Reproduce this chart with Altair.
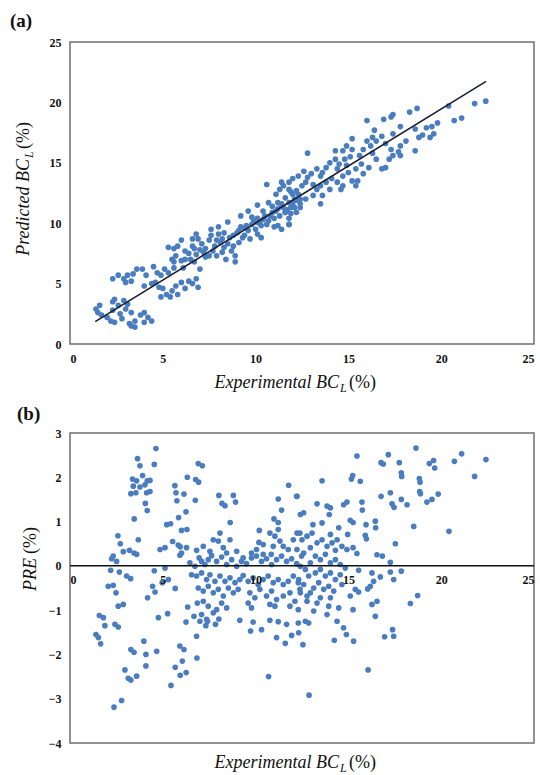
import altair as alt
import pandas as pd

# ---------------- data ----------------
x_ticks = [0, 5, 10, 15, 20, 25]
a_y_ticks = [0, 5, 10, 15, 20, 25]
b_y_ticks = [-4, -3, -2, -1, 0, 1, 2, 3]

# panel (a): (Experimental BC_L, Predicted BC_L)
a_low_pts = [
    (1.4, 2.9), (1.6, 3.2), (1.5, 2.6), (1.7, 2.4), (2.0, 2.2), (2.3, 3.5), (2.4, 3.7), (2.6, 3.2),
    (2.3, 2.8), (2.7, 2.5), (2.2, 1.9), (2.4, 1.8), (2.8, 2.1), (3.2, 1.7), (3.3, 1.5), (3.5, 1.9),
    (3.8, 2.4), (4.0, 2.6), (4.2, 2.2), (4.4, 1.9), (4.0, 1.8), (3.5, 1.4), (3.3, 2.6), (3.0, 2.9),
    (3.1, 3.3), (2.9, 3.6),
    (2.3, 5.4), (2.6, 5.7), (2.9, 5.4), (3.1, 5.7), (3.4, 5.8), (3.6, 6.2), (3.9, 6.2), (3.3, 5.2),
    (3.0, 5.1), (4.1, 5.7), (4.5, 6.4), (4.7, 5.9), (4.9, 5.7), (5.1, 6.2), (5.3, 5.9), (5.6, 6.3),
    (4.0, 4.8), (4.4, 5.0), (4.8, 4.7), (5.0, 4.6), (5.2, 4.1), (5.5, 4.4), (5.7, 4.8), (6.0, 5.1),
    (6.2, 4.6), (6.4, 5.2), (6.6, 5.0), (6.9, 4.7), (6.8, 5.4), (5.8, 4.1), (4.9, 3.9), (5.4, 3.9),
    (4.6, 5.1),
]
a_mid_pts = [
    (5.3, 8.0), (5.6, 7.9), (5.8, 8.1), (6.0, 8.6), (6.2, 7.7), (6.4, 7.5), (6.6, 8.1), (6.7, 7.9),
    (6.9, 8.7), (7.1, 8.3), (7.3, 7.9), (7.5, 8.6), (7.6, 9.0), (7.8, 8.1), (8.0, 9.1), (8.2, 8.7),
    (8.3, 9.2), (8.5, 8.3), (8.7, 7.7), (8.9, 7.3), (8.8, 9.0), (9.1, 9.4), (9.2, 9.7), (9.4, 9.0),
    (9.6, 9.4), (9.8, 9.9), (10.0, 9.5), (10.1, 10.4), (10.3, 9.8), (10.5, 10.6), (10.7, 10.2),
    (10.9, 10.9), (11.0, 10.4), (11.2, 11.2), (11.4, 11.6), (11.6, 10.9), (11.8, 11.7), (11.9, 11.3),
    (12.1, 12.0), (12.3, 12.4), (10.6, 13.2), (11.4, 13.4), (11.8, 12.8), (12.2, 10.9), (11.8, 10.4),
    (11.2, 9.8), (10.7, 11.7), (10.1, 11.5), (9.6, 11.0), (9.2, 10.6), (8.5, 10.1), (8.0, 9.7),
    (7.6, 9.5), (7.3, 7.2), (6.7, 6.8), (6.5, 7.0), (6.0, 6.9), (5.7, 7.3), (7.0, 6.2), (7.9, 7.3),
    (8.2, 7.6), (8.4, 7.0), (8.9, 6.8), (6.8, 9.1), (6.6, 8.7), (6.2, 7.0), (5.6, 6.8), (6.1, 6.3),
    (7.5, 7.3), (7.7, 7.7), (8.3, 8.0), (8.8, 8.1), (9.1, 8.4), (9.7, 8.7), (10.1, 9.1), (10.3, 8.8),
    (11.0, 9.7), (11.4, 9.5), (11.8, 9.9), (5.5, 7.0),
    (9.0, 9.2), (9.3, 8.8), (9.5, 9.8), (9.9, 10.2), (10.2, 10.0), (10.4, 10.3), (10.6, 9.9),
    (10.8, 10.6), (11.1, 11.0), (11.3, 10.6), (11.5, 11.3), (11.7, 11.1), (12.0, 11.6), (12.2, 11.9),
    (12.4, 12.0), (9.8, 10.5), (10.4, 11.0), (10.9, 11.4), (12.0, 12.4), (12.4, 11.3), (8.6, 8.8),
    (8.1, 8.4), (7.9, 8.6), (7.2, 7.6), (7.0, 7.8), (6.8, 7.4), (10.0, 10.1), (9.4, 9.6),
]
a_high_pts = [
    (21.8, 19.9), (22.4, 20.1), (20.7, 18.5), (21.1, 18.7), (20.4, 19.7), (18.3, 19.2), (18.7, 19.5),
    (17.4, 19.0), (17.3, 18.8), (16.9, 18.6), (16.0, 18.5), (15.2, 17.0), (12.8, 15.8), (17.8, 18.0),
    (18.6, 17.8), (19.2, 17.9), (19.5, 18.0), (19.8, 18.3), (19.6, 17.4), (19.4, 17.1), (18.8, 17.1),
    (19.0, 17.3), (18.1, 16.8), (17.8, 16.4), (17.7, 15.9), (17.3, 16.1), (17.4, 15.6), (17.2, 15.3),
    (17.8, 15.6), (18.6, 16.0), (17.0, 14.6), (16.8, 14.5), (16.5, 15.3), (16.3, 15.8), (16.2, 16.4),
    (16.5, 16.8), (16.4, 17.7), (16.8, 17.2), (17.0, 16.6), (17.4, 17.4), (16.3, 17.1), (16.0, 16.8),
    (15.8, 16.1), (15.6, 15.6), (15.7, 14.9), (15.4, 14.5), (15.1, 15.5), (15.2, 16.1), (14.9, 16.4),
    (14.7, 16.0), (14.8, 15.3), (15.0, 14.2), (15.4, 13.1), (15.2, 13.5), (14.7, 13.9), (14.4, 14.5),
    (14.3, 16.0), (14.0, 15.0), (13.8, 14.6), (13.6, 14.2), (13.5, 13.9), (13.3, 14.5), (13.0, 14.1),
    (12.8, 13.8), (12.6, 14.3), (12.3, 13.9), (12.0, 13.7), (11.8, 13.4), (11.5, 13.1), (11.3, 12.8),
    (11.1, 12.4), (11.2, 11.7), (11.6, 12.1), (11.9, 12.6), (12.2, 12.7), (12.5, 13.1), (12.7, 13.4),
    (13.1, 13.2), (13.5, 13.1), (13.8, 13.4), (14.1, 13.7), (14.4, 13.4), (14.6, 12.8), (13.6, 12.3),
    (13.5, 11.6), (13.1, 12.3), (12.7, 12.0), (12.4, 11.6), (12.1, 11.3), (11.9, 10.8), (11.6, 10.9),
    (11.8, 9.9), (11.4, 11.5), (14.3, 15.3), (14.5, 14.9), (14.9, 14.8), (15.5, 13.5), (15.8, 14.1),
    (16.1, 14.6), (14.7, 13.1), (14.0, 12.8), (13.3, 12.8),
]
fit_exp = [1.36, 22.42]
fit_pred = [1.85, 21.74]

# panel (b): (Experimental BC_L, PRE)
b_left_pts = [
    (4.63, 2.65), (3.64, 2.42), (3.77, 2.26), (4.54, 2.29), (3.37, 1.96), (3.59, 1.92), (3.91, 2.04),
    (4.16, 1.92), (4.31, 1.93), (3.41, 1.80), (3.77, 1.78), (4.04, 1.83), (3.28, 1.63), (3.55, 1.65),
    (4.13, 1.65), (4.31, 1.68), (4.06, 1.41), (4.16, 1.25), (3.46, 1.06), (6.91, 2.31), (7.13, 2.26),
    (6.32, 2.00), (6.77, 1.95), (6.93, 1.89), (5.65, 1.81), (5.71, 1.65), (6.14, 1.62), (5.76, 1.47),
    (6.75, 1.48), (8.02, 1.59), (8.80, 1.59), (8.19, 1.41), (8.35, 1.36), (8.92, 1.44), (8.63, 0.98),
    (6.25, 1.22), (5.85, 1.09), (5.21, 0.93), (5.42, 0.95), (6.01, 0.80), (6.30, 0.82), (5.53, 0.55),
    (5.94, 0.43), (3.68, 0.59), (2.58, 0.68), (2.71, 0.50), (2.87, 0.32), (3.20, 0.35), (3.45, 0.29),
    (3.59, 0.26), (2.33, 0.22), (2.24, 0.16), (2.51, 0.10), (4.85, 0.37), (5.12, 0.41), (5.92, 0.24),
    (2.19, -0.10), (2.66, -0.14), (3.05, -0.23), (3.27, -0.29), (4.54, -0.11), (5.12, -0.05),
    (5.30, -0.31), (4.97, -0.38), (5.67, -0.51), (4.45, -0.46), (4.58, -0.59), (4.18, -0.72),
    (2.06, -0.46), (2.33, -0.44), (2.48, -0.61), (2.60, -0.91), (2.87, -0.87), (1.58, -1.12),
    (1.80, -1.17), (1.88, -1.35), (2.42, -1.32), (2.60, -1.38), (1.40, -1.55), (1.65, -1.76),
    (1.53, -1.62), (4.76, -1.17), (5.26, -1.08), (6.25, -1.27), (6.68, -1.14), (6.82, -1.59),
    (7.00, -1.25), (7.32, -1.35), (7.41, -1.25), (7.84, -1.32), (8.02, -1.20), (6.34, -0.93),
    (6.86, -0.84), (3.28, -1.89), (3.45, -1.95), (3.98, -1.70), (4.09, -2.00), (4.09, -2.26),
    (4.67, -1.93), (5.92, -1.81), (6.14, -1.89), (6.05, -2.15), (6.84, -2.08), (5.67, -2.29),
    (5.94, -2.47), (6.26, -2.41), (2.96, -2.35), (3.14, -2.54), (3.28, -2.58), (3.59, -2.49),
    (5.44, -2.70), (2.78, -3.04), (2.37, -3.19),
]
b_mid_pts = [
    (10.70, -2.50), (11.60, -1.75), (11.13, -1.62), (11.94, -1.57), (9.73, -1.47), (10.32, -1.44),
    (9.87, -1.27), (9.15, -1.23), (10.77, -1.23), (11.22, -1.26), (11.67, -1.32), (12.30, -1.29),
    (11.78, 1.82), (11.22, 1.51), (12.21, 1.57), (11.40, 1.26), (10.99, 1.06), (11.22, 0.98),
    (10.20, 0.80), (10.18, 0.53), (10.41, 0.48), (10.84, 0.26), (8.62, 0.59), (7.72, 0.59),
    (7.99, 0.56), (8.26, 0.41), (8.08, 0.74), (7.54, 0.33), (7.18, 0.44), (6.82, 0.35), (6.28, 0.41),
    (6.01, 0.29), (5.83, 0.47),
    (6.46, 0.07), (6.73, -0.01), (6.96, 0.18), (7.09, 0.10), (7.27, 0.03), (7.45, 0.14), (7.63, 0.23),
    (7.90, 0.10), (8.17, 0.20), (8.44, 0.03), (8.71, 0.14), (8.98, -0.01), (9.24, 0.10), (9.51, 0.05),
    (9.78, 0.18), (10.05, 0.22), (10.32, 0.10), (10.59, 0.16), (10.86, 0.03), (11.13, 0.14),
    (11.40, 0.22), (11.67, 0.10), (11.94, 0.16), (12.21, 0.05), (12.48, 0.22), (6.55, -0.20),
    (6.82, -0.23), (7.09, -0.16), (7.36, -0.31), (7.54, -0.20), (7.81, -0.35), (8.08, -0.23),
    (8.35, -0.35), (8.62, -0.27), (8.89, -0.38), (9.15, -0.31), (9.33, -0.22), (9.60, -0.35),
    (9.87, -0.27), (10.14, -0.42), (10.41, -0.31), (10.68, -0.23), (10.95, -0.38), (11.22, -0.31),
    (11.49, -0.42), (11.76, -0.35), (12.03, -0.23), (12.30, -0.38), (6.91, -0.50), (7.18, -0.57),
    (7.45, -0.46), (7.72, -0.61), (7.99, -0.53), (8.26, -0.68), (8.53, -0.50), (8.80, -0.61),
    (9.06, -0.53), (9.69, -0.61), (9.96, -0.72), (10.23, -0.53), (10.59, -0.68), (10.86, -0.57),
    (11.13, -0.76), (11.49, -0.68), (11.85, -0.61), (12.12, -0.80), (12.39, -0.53), (7.18, -0.80),
    (7.45, -0.91), (7.90, -0.99), (8.17, -0.84), (8.44, -0.95), (9.60, -0.84), (9.78, -0.95),
    (10.77, -0.87), (11.04, -0.91), (11.85, -0.91), (12.30, -0.99), (7.09, -1.10), (7.72, -1.06),
    (7.36, -1.21), (10.77, 0.74), (11.04, 0.67), (11.22, 0.82), (11.31, 0.56), (11.49, 0.44),
    (11.76, 0.37), (12.03, 0.59), (12.39, 0.74), (10.95, 0.44), (10.41, 0.26), (10.05, 0.37),
    (9.78, 0.29), (9.33, 0.18), (8.98, 0.33), (8.44, 0.29),
]
b_right_pts = [
    (18.64, 2.66), (15.46, 2.48), (17.15, 2.51), (17.74, 2.33), (16.76, 2.33), (16.88, 2.30),
    (19.36, 2.31), (19.59, 2.38), (19.65, 2.21), (20.71, 2.36), (21.10, 2.53), (22.41, 2.40),
    (21.80, 2.02), (15.16, 1.96), (15.23, 2.04), (15.64, 1.91), (13.58, 1.92), (17.85, 2.10),
    (17.87, 2.02), (18.82, 1.97), (18.86, 1.89), (18.84, 1.68), (18.88, 1.63), (16.76, 1.57),
    (17.26, 1.65), (17.85, 1.50), (18.16, 1.38), (17.35, 1.40), (17.46, 1.32), (19.23, 1.44),
    (19.50, 1.50), (19.84, 1.62), (18.52, 0.89), (20.42, 0.78), (17.53, 0.50), (14.74, 1.38),
    (14.92, 1.44), (15.73, 1.44), (15.75, 1.26), (15.95, 0.93), (16.45, 1.01), (16.47, 0.86),
    (15.91, 0.69), (15.97, 0.61), (15.10, 1.03), (15.25, 0.98), (14.96, 0.71), (16.54, 0.25),
    (16.83, 0.22), (17.26, 0.08), (15.46, 0.28), (15.25, 0.41), (14.92, 0.37), (14.30, 0.35),
    (14.03, 0.71), (14.48, 0.86), (13.85, 1.35), (14.03, 1.31), (13.97, 1.16), (13.31, 1.40),
    (13.09, 0.93), (13.58, 0.97), (12.41, 1.16), (12.59, 1.20), (12.23, 1.57),
    (15.55, -0.10), (16.27, -0.16), (16.72, -0.25), (17.26, -0.14), (17.44, -0.31), (17.85, -0.12),
    (16.18, -0.46), (16.04, -0.52), (16.36, -0.35), (16.54, -0.80), (16.27, -0.87), (16.45, -1.14),
    (15.37, -0.53), (15.55, -0.59), (15.10, -0.68), (15.25, -0.99), (14.65, -0.42), (14.48, -0.95),
    (14.39, -1.25), (14.74, -1.40), (14.89, -1.55), (15.28, -1.70), (14.24, -1.68), (13.85, -1.10),
    (13.94, -0.91), (14.03, -0.72), (13.31, -0.84), (13.13, -1.02), (12.77, -0.80), (12.68, -1.25),
    (12.86, -1.29), (12.32, -1.51), (12.55, -1.78), (16.95, -1.60), (17.44, -1.59), (17.38, -1.44),
    (18.34, -0.85), (18.73, -0.67), (16.06, -2.35), (12.88, -2.92),
    (12.23, 0.74), (12.50, 0.59), (12.77, 0.67), (13.04, 0.74), (13.31, 0.52), (13.58, 0.59),
    (13.85, 0.44), (14.12, 0.52), (14.39, 0.59), (14.65, 0.44), (12.23, 0.37), (12.59, 0.29),
    (12.95, 0.41), (13.22, 0.22), (13.49, 0.14), (13.76, 0.26), (14.03, 0.07), (14.30, 0.14),
    (14.56, 0.03), (14.83, -0.05), (12.41, -0.01), (12.68, -0.08), (12.95, 0.07), (13.22, -0.16),
    (13.49, -0.08), (13.76, -0.23), (14.03, -0.16), (14.30, -0.31), (14.56, -0.20), (12.32, -0.31),
    (12.59, -0.42), (12.86, -0.23), (13.13, -0.50), (13.40, -0.38), (13.67, -0.53), (13.94, -0.46),
    (14.21, -0.57), (12.41, -0.61), (12.77, -0.68), (12.95, -0.61), (13.49, -0.72),
]
zero_line = [0]

# ---------------- styling ----------------
SERIF = "Liberation Serif"
BLUE = "#4a7dbf"
INK = "#111111"
W = 464
HA = 302
HB = 310

a_pts = a_low_pts + a_mid_pts + a_high_pts
b_pts = b_left_pts + b_mid_pts + b_right_pts
dfa = pd.DataFrame({"exp": [p[0] for p in a_pts], "val": [p[1] for p in a_pts]})
dff = pd.DataFrame({"exp": fit_exp, "val": fit_pred})
dfb = pd.DataFrame({"exp": [p[0] for p in b_pts], "val": [p[1] for p in b_pts]})
dfz = pd.DataFrame({"val": zero_line})

xscale = alt.Scale(domain=[0, 25], nice=False, zero=False)
ya_scale = alt.Scale(domain=[0, 25], nice=False)
yb_scale = alt.Scale(domain=[-4, 3], nice=False, zero=False)


def lab_axis(values, pad=9, **kw):
    return alt.Axis(values=values, title=None, grid=False, ticks=False, domain=False,
                    labelFont=SERIF, labelFontWeight="bold", labelFontSize=12,
                    labelColor=INK, labelPadding=pad, **kw)


def txt(t, x, y, size=18, style="italic", weight="normal", angle=0, align="left", dx=0, dy=0):
    return alt.Chart(pd.DataFrame({"t": [t]})).mark_text(
        font=SERIF, fontSize=size, fontStyle=style, fontWeight=weight, angle=angle,
        align=align, baseline="alphabetic", dx=dx, dy=dy, color=INK,
    ).encode(text="t:N", x=alt.value(x), y=alt.value(y))


# ---------------- panel (a) ----------------
pts_a = alt.Chart(dfa).mark_circle(size=32, color=BLUE, opacity=1).encode(
    x=alt.X("exp:Q", scale=xscale, axis=lab_axis(x_ticks)),
    y=alt.Y("val:Q", scale=ya_scale, axis=lab_axis(a_y_ticks)),
)
fit_a = alt.Chart(dff).mark_line(color="#1b1f2e", strokeWidth=1.6).encode(
    x=alt.X("exp:Q", scale=xscale), y=alt.Y("val:Q", scale=ya_scale)
)
XT_X = 269
chart_a = alt.layer(
    pts_a, fit_a,
    txt("(a)", -60, -15, size=19, style="normal", weight="bold"),
    txt("Predicted BC", -41, 117, angle=270, align="right"),
    txt("L", -41, 117, size=12, angle=270, align="left", dx=1, dy=4),
    txt("(%)", -41, 117, style="normal", angle=270, align="left", dx=10),
    txt("Experimental BC", XT_X, HA + 44, align="right"),
    txt("L", XT_X, HA + 44, size=12, dx=1, dy=4),
    txt("(%)", XT_X, HA + 44, style="normal", dx=10),
).properties(width=W, height=HA)

# ---------------- panel (b) ----------------
pts_b = alt.Chart(dfb).mark_circle(size=32, color=BLUE, opacity=1).encode(
    x=alt.X("exp:Q", scale=xscale, axis=lab_axis(x_ticks, pad=8, offset=-177, zindex=2)),
    y=alt.Y("val:Q", scale=yb_scale, axis=lab_axis(b_y_ticks)),
)
zero_b = alt.Chart(dfz).mark_rule(color="#111111", strokeWidth=1.5).encode(
    y=alt.Y("val:Q", scale=yb_scale)
)
chart_b = alt.layer(
    pts_b, zero_b,
    txt("(b)", -53, -13, size=19, style="normal", weight="bold"),
    txt("PRE", -34, 125, angle=270, align="right"),
    txt("(%)", -34, 125, style="normal", angle=270, align="left", dx=4),
    txt("Experimental BC", XT_X, HB + 25, align="right"),
    txt("L", XT_X, HB + 25, size=12, dx=1, dy=4),
    txt("(%)", XT_X, HB + 25, style="normal", dx=10),
).properties(width=W, height=HB)

chart = alt.vconcat(chart_a, chart_b, spacing=9).properties(
    padding={"left": 9, "top": 11, "right": 0, "bottom": 0},
    background="white",
).configure_view(stroke="#6f6f6f", strokeWidth=1.5)

chart.save("out.html", embed_options={"renderer": "svg", "actions": False})
